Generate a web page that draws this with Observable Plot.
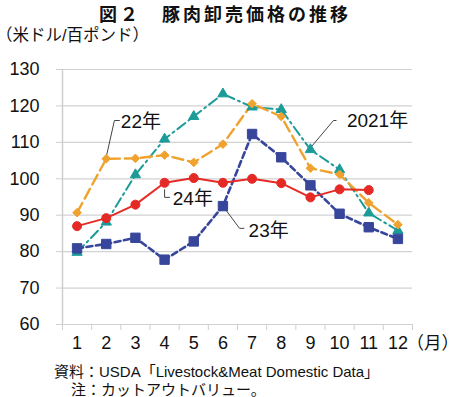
<!DOCTYPE html>
<html><head><meta charset="utf-8">
<script src="https://cdn.jsdelivr.net/npm/d3@7"></script>
<script src="https://cdn.jsdelivr.net/npm/@observablehq/plot@0.6"></script>
<style>
body{margin:0;background:#fff;}
#wrap{position:relative;width:450px;height:397px;overflow:hidden;font-family:"Liberation Sans","Noto Sans CJK JP",sans-serif;color:#111;}
.abs{position:absolute;white-space:nowrap;}
#title{top:0;left:0;width:450px;text-align:center;font-size:18px;font-weight:bold;letter-spacing:3px;line-height:26px;font-family:"Noto Sans CJK JP",sans-serif;}
#unit{top:26px;left:-4px;font-size:16.5px;line-height:18px;}
#chart{top:44px;left:0;}
#cap1{top:363px;left:54px;font-size:15px;line-height:18px;}
#cap2{top:381px;left:71px;font-size:15px;line-height:18px;}
</style>
</head><body>
<div id="wrap">
<div id="title" class="abs">図２　豚肉卸売価格の推移</div>
<div id="unit" class="abs">（米ドル/百ポンド）</div>
<div id="chart" class="abs"></div>
<div id="cap1" class="abs">資料：USDA「Livestock&amp;Meat Domestic Data」</div>
<div id="cap2" class="abs">注：カットアウトバリュー。</div>
</div>
<script>
const months = [1,2,3,4,5,6,7,8,9,10,11,12];
const yTicks = [60,70,80,90,100,110,120,130];
const seriesNames = ["2021年","22年","23年","24年"];
const s2021 = [79.8, 88.1, 101.1, 110.9, 117.1, 123.3, 119.7, 119.0, 108.0, 102.5, 90.6, 85.8];
const s2022 = [90.7, 105.5, 105.6, 106.5, 104.5, 109.5, 120.6, 117.1, 102.9, 101.2, 93.4, 87.4];
const s2023 = [80.9, 82.1, 83.8, 77.8, 82.8, 92.5, 112.3, 105.9, 98.2, 90.4, 86.7, 83.5];
const s2024 = [87.0, 89.2, 92.9, 98.9, 100.2, 98.9, 100.0, 98.8, 94.9, 97.1, 96.9, null];
const seriesValues = [s2021, s2022, s2023, s2024];

// annotation labels (data units)
const labelText = ["22年", "24年", "2021年", "23年"];
const labelMonth = [2.5, 4.28, 10.25, 6.88];
const labelValue = [115.6, 94.6, 116.0, 85.7];
const leaders = [
  [[2.0,106.0],[2.28,116.0],[2.45,116.0]],
  [[4.0,97.0],[4.0,94.9],[4.17,94.9]],
  [[9.0,108.5],[9.79,116.0],[9.88,116.0]],
  [[6.0,92.5],[6.57,86.4],[6.72,86.4]]
];

const styles = {
  "2021年": {color:"#1c9b98", dash:"10,4,2,4", width:2, symbol:"triangle", r:3.8},
  "22年":  {color:"#f0a22e", dash:"11,5", width:2.4, symbol:"diamond2", r:3.9},
  "23年":  {color:"#37469b", dash:"6,3.5", width:2.6, symbol:"square", r:5.3},
  "24年":  {color:"#e52a26", dash:null, width:2, symbol:"circle", r:4.5}
};

const rows = [];
seriesNames.forEach((name, i) => {
  months.forEach((m, j) => {
    const v = seriesValues[i][j];
    if (v != null) rows.push({series: name, month: m, value: v});
  });
});

const leaderRows = [];
leaders.forEach((pts, i) => pts.forEach(p => leaderRows.push({id: i, month: p[0], value: p[1]})));
const labelRows = labelText.map((t, i) => ({text: t, month: labelMonth[i], value: labelValue[i]}));

const marks = [
  Plot.ruleY(yTicks, {y: d => d, x1: 0.5, x2: 12.5, stroke: "#d2d2d2", strokeWidth: 1.2}),
  Plot.ruleX([0.5], {y1: 60, y2: 130, stroke: "#cfcfcf", strokeWidth: 1.5}),
  Plot.axisY(yTicks, {label: null, tickSize: 6, tickPadding: 17, stroke: "#cfcfcf", fontSize: 18, fill: "#111"}),
  Plot.axisX(months.map(m => m - 0.5).concat([12.5]), {label: null, tickSize: 6, tickFormat: () => "", stroke: "#cfcfcf"}),
  Plot.axisX(months, {label: null, tickSize: 0, tickPadding: 12, fontSize: 18, fill: "#111"}),
  Plot.text(["（月）"], {x: 12.5, y: 60, dy: 19, dx: -6, textAnchor: "start", fontSize: 17.5, fill: "#111"}),
  Plot.line(leaderRows, {x: "month", y: "value", z: "id", stroke: "#444", strokeWidth: 1})
];
seriesNames.forEach(name => {
  const st = styles[name];
  const d = rows.filter(r => r.series === name);
  marks.push(Plot.line(d, {x: "month", y: "value", stroke: st.color, strokeWidth: st.width, strokeDasharray: st.dash}));
});
seriesNames.forEach(name => {
  const st = styles[name];
  const d = rows.filter(r => r.series === name);
  marks.push(Plot.dot(d, {x: "month", y: "value", symbol: () => st.symbol, fill: st.color, stroke: st.color, strokeWidth: 1, r: st.r}));
});
marks.push(Plot.text(labelRows, {x: "month", y: "value", text: "text", textAnchor: "start", fontSize: 19, fill: "#111"}));

const chart = Plot.plot({
  width: 450,
  height: 312,
  marginTop: 25,
  marginBottom: 32,
  marginLeft: 62,
  marginRight: 38,
  style: {fontFamily: '"Liberation Sans","Noto Sans CJK JP",sans-serif', background: "#fff", overflow: "visible"},
  x: {domain: [0.5, 12.5], axis: null},
  y: {domain: [60, 130], axis: null},
  symbol: {type: "identity"},
  marks
});
document.getElementById("chart").appendChild(chart);
</script>
</body></html>
